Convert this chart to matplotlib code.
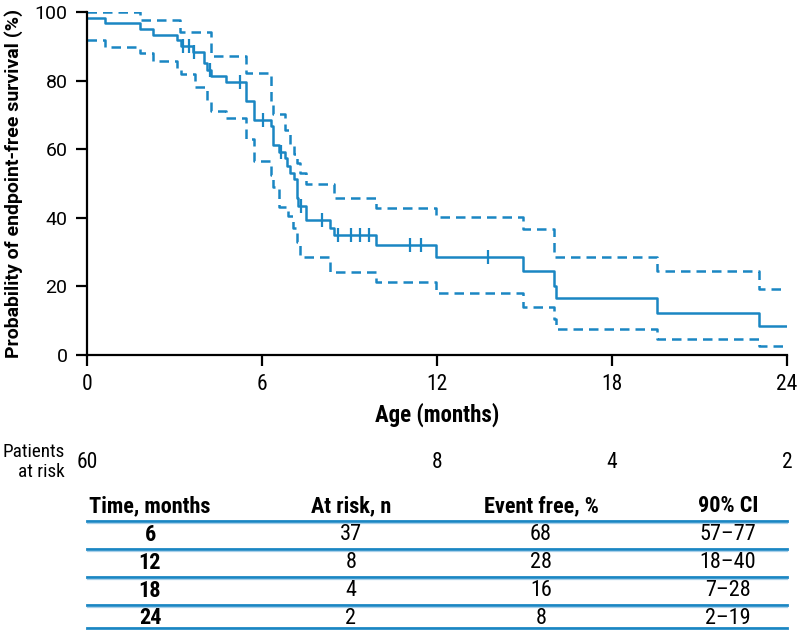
import matplotlib
matplotlib.use("Agg")
import matplotlib.pyplot as plt
from matplotlib import font_manager
from matplotlib.lines import Line2D

# ---- data ----
# Kaplan-Meier estimate (step starts, level in %)
km_t = [0, 0.62, 1.82, 2.26, 3.08, 3.22, 3.62, 4.00, 4.10, 4.25, 4.77, 5.45, 5.74,
        6.30, 6.39, 6.58, 6.79, 6.87, 6.96, 7.10, 7.19, 7.25, 7.52, 8.33, 8.47,
        9.91, 11.95, 14.94, 16.00, 16.08, 19.55, 23.03]
km_s = [98.3, 96.7, 95.0, 93.3, 91.7, 90.0, 88.3, 85.0, 83.2, 81.4, 79.7, 74.1, 68.6,
        66.7, 61.1, 59.2, 57.3, 55.2, 53.2, 51.3, 45.7, 43.4, 39.5, 36.9, 35.0,
        32.1, 28.5, 24.6, 20.1, 16.5, 12.3, 8.5]

# censored observations (time, level)
cens_t = [3.30, 3.50, 3.68, 4.22, 5.25, 6.05, 6.64, 7.32, 8.05, 8.60, 9.05, 9.35, 9.66,
          11.07, 11.44, 13.76]
cens_s = [90.0, 90.0, 88.3, 83.2, 79.7, 68.6, 59.2, 43.4, 39.5, 35.0, 35.0, 35.0, 35.0,
          32.1, 32.1, 28.5]

# 90% confidence band
up_t = [0, 1.82, 3.20, 4.25, 5.45, 6.30, 6.39, 6.79, 6.96, 7.10, 7.19, 7.30, 7.52,
        8.47, 9.91, 11.95, 14.94, 16.00, 19.55, 23.03]
up_s = [100, 97.7, 94.2, 87.2, 82.2, 74.0, 70.3, 65.5, 61.5, 58.5, 56.0, 53.0, 50.0,
        45.7, 43.0, 40.1, 36.6, 28.5, 24.5, 19.3]

lo_t = [0, 0.62, 1.82, 2.26, 3.08, 3.22, 3.70, 4.10, 4.25, 4.77, 5.45, 5.74, 6.30,
        6.39, 6.58, 6.88, 7.05, 7.19, 7.30, 8.33, 9.91, 11.95, 14.94, 16.00, 16.08,
        19.55, 23.03]
lo_s = [91.8, 89.9, 88.1, 85.7, 83.5, 81.9, 78.2, 74.0, 71.1, 69.2, 63.0, 56.5, 52.5,
        49.0, 43.2, 40.5, 37.0, 33.0, 28.7, 24.3, 21.4, 18.0, 14.1, 10.5, 7.5,
        4.6, 2.6]

x_ticks = [0, 6, 12, 18, 24]
y_ticks = [0, 20, 40, 60, 80, 100]

risk_t = [0, 12, 18, 24]
risk_n = ["60", "8", "4", "2"]

tbl_header = ["Time, months", "At risk, n", "Event free, %", "90% CI"]
tbl_time = ["6", "12", "18", "24"]
tbl_risk = ["37", "8", "4", "2"]
tbl_free = ["68", "28", "16", "8"]
tbl_ci = ["57\u201377", "18\u201340", "7\u201328", "2\u201319"]


def pick_font(names):
    have = {f.name for f in font_manager.fontManager.ttflist}
    for n in names:
        if n in have:
            return n
    return "DejaVu Sans"


narrow = pick_font(["Roboto Condensed", "Liberation Sans Narrow", "Roboto"])
regular = pick_font(["Roboto", "Liberation Sans"])

BLUE = "#1a86c3"
W, H = 799, 630


def fx(px):
    return px / W


def fy(py):
    return 1 - py / H


fig = plt.figure(figsize=(W / 100, H / 100), dpi=100)
ax = fig.add_axes([fx(87), fy(355), fx(787) - fx(87), fy(12) - fy(355)])

# curves
ax.step(km_t + [24], km_s + [km_s[-1]], where="post", color=BLUE, lw=1.8)
ax.step(up_t + [24], up_s + [up_s[-1]], where="post", color=BLUE, lw=1.8,
        dashes=(3.8, 2.4))
ax.step(lo_t + [24], lo_s + [lo_s[-1]], where="post", color=BLUE, lw=1.8,
        dashes=(3.8, 2.4))
ax.plot(cens_t, cens_s, ls="none", marker="|", ms=10, mew=1.6, color=BLUE)

ax.set_xlim(0, 24)
ax.set_ylim(0, 100)
ax.set_xticks(x_ticks)
ax.set_yticks(y_ticks)
for s in ["top", "right"]:
    ax.spines[s].set_visible(False)
for s in ["left", "bottom"]:
    ax.spines[s].set_linewidth(1.6)
ax.tick_params(direction="out", length=8, width=1.6, pad=6)
ax.set_xticklabels([str(v) for v in x_ticks], fontfamily=narrow, fontsize=15.5)
ax.set_yticklabels([str(v) for v in y_ticks], fontfamily=regular, fontsize=14)
ax.set_xlabel("Age (months)", fontfamily=narrow, fontweight="bold", fontsize=16.5,
              labelpad=5)
ax.set_ylabel("Probability of endpoint-free survival (%)", fontfamily=regular,
              fontweight="bold", fontsize=14, labelpad=8)

# patients at risk row
fig.text(fx(65), fy(462), "Patients\nat risk", ha="right", va="center",
         fontfamily=narrow, fontsize=13.8, linespacing=1.1)
for t, n in zip(risk_t, risk_n):
    fig.text(fx(87 + t * 700 / 24), fy(462), n, ha="center", va="center",
             fontfamily=narrow, fontsize=15.5)

# summary table
col_x = [150, 351, 541, 728]
for cx, h in zip(col_x, tbl_header):
    fig.text(fx(cx), fy(506), h, ha="center", va="center", fontfamily=narrow,
             fontweight="bold", fontsize=16)
row_y = [535, 563, 591, 618]
for i, ry in enumerate(row_y):
    vals = [tbl_time[i], tbl_risk[i], tbl_free[i], tbl_ci[i]]
    for j, (cx, v) in enumerate(zip(col_x, vals)):
        fig.text(fx(cx), fy(ry), v, ha="center", va="center", fontfamily=narrow,
                 fontweight="bold" if j == 0 else "normal", fontsize=16)
for ly in [521, 549, 577, 605, 628]:
    fig.add_artist(Line2D([fx(87), fx(787)], [fy(ly), fy(ly)], color=BLUE, lw=2.0))
    fig.add_artist(Line2D([fx(87), fx(787)], [fy(ly + 2), fy(ly + 2)],
                          color="#a9d0ea", lw=0.9))

fig.savefig("out.png", dpi=100)
